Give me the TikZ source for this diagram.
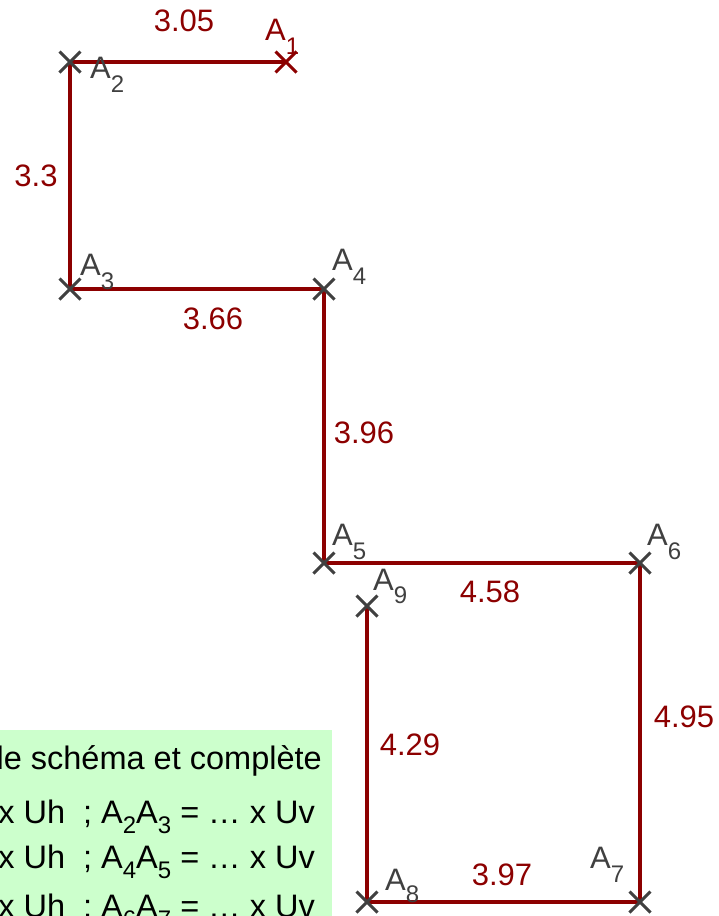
\documentclass[tikz,border=0pt]{standalone}
\usepackage{fontspec}
\setmainfont{Liberation Sans}
\usetikzlibrary{shapes.misc}
\definecolor{segred}{RGB}{140,0,0}
\definecolor{ptgray}{RGB}{64,64,64}
\definecolor{boxgreen}{RGB}{204,255,204}
\newcommand{\idx}[2][14pt]{\raisebox{-#1}{\fontsize{24}{24}\selectfont #2}}
\newcommand{\nidx}[1]{\raisebox{-10pt}{\fontsize{24}{24}\selectfont #1}}
\tikzset{
  seg/.style={draw=segred, line width=4pt},
  pt/.style={cross out, draw=ptgray, line width=3pt, minimum size=18pt, inner sep=0pt},
  ptname/.style={anchor=base west, inner sep=0pt, text=ptgray, font=\fontsize{31}{36}\selectfont},
  len/.style={inner sep=0pt, text=segred, font=\fontsize{31}{36}\selectfont},
  note/.style={anchor=base east, inner sep=0pt, font=\fontsize{32.5}{38}\selectfont},
}
\begin{document}
\begin{tikzpicture}[x=1pt, y=-1pt]
        \useasboundingbox (0,0) rectangle (718,916);
        \clip (0,0) rectangle (718,916);

        % Points
        \coordinate (a1) at (286,62);
        \coordinate (a2) at (70,62);
        \coordinate (a3) at (70,289);
        \coordinate (a4) at (324,289);
        \coordinate (a5) at (324,563);
        \coordinate (a6) at (640,563);
        \coordinate (a7) at (640,902);
        \coordinate (a8) at (367,902);
        \coordinate (a9) at (367,606);

        % Note
        \node (box) [fill=boxgreen, minimum width=332pt, minimum height=186pt, inner sep=0pt, anchor=north west] at (0,730) {};
        \node (line1) [note] at (322,769) {le schéma et complète};
        \node (line2) [note] at (315,823) {x Uh\hspace{0.55em}; A\nidx{2}A\nidx{3} = … x Uv};
        \node (line3) [note] at (315,868) {x Uh\hspace{0.55em}; A\nidx{4}A\nidx{5} = … x Uv};
        \node (line4) [note] at (315,917) {x Uh\hspace{0.55em}; A\nidx{6}A\nidx{7} = … x Uv};

        % Edges
        \draw[seg] (a1) -- (a2);
        \draw[seg] (a2) -- (a3);
        \draw[seg] (a3) -- (a4);
        \draw[seg] (a4) -- (a5);
        \draw[seg] (a5) -- (a6);
        \draw[seg] (a6) -- (a7);
        \draw[seg] (a7) -- (a8);
        \draw[seg] (a8) -- (a9);

        % Crosses
        \node (x1) [pt, draw=segred] at (a1) {};
        \node (x2) [pt] at (a2) {};
        \node (x3) [pt] at (a3) {};
        \node (x4) [pt] at (a4) {};
        \node (x5) [pt] at (a5) {};
        \node (x6) [pt] at (a6) {};
        \node (x7) [pt] at (a7) {};
        \node (x8) [pt] at (a8) {};
        \node (x9) [pt] at (a9) {};

        % Names
        \node (n1) [ptname, text=segred] at (265,40) {A\idx{1}};
        \node (n2) [ptname] at (90,78) {A\idx{2}};
        \node (n3) [ptname] at (80,275) {A\idx{3}};
        \node (n4) [ptname] at (332,270) {A\idx{4}};
        \node (n5) [ptname] at (332,545) {A\idx{5}};
        \node (n6) [ptname] at (647,545) {A\idx{6}};
        \node (n7) [ptname] at (590,868) {A\idx{7}};
        \node (n8) [ptname] at (385,890) {A\idx[12pt]{8}};
        \node (n9) [ptname] at (373,590) {A\idx[13pt]{9}};

        % Lengths
        \node (l12) [len] at (184,21) {3.05};
        \node (l23) [len] at (36,176) {3.3};
        \node (l34) [len] at (213,319) {3.66};
        \node (l45) [len] at (364,433) {3.96};
        \node (l56) [len] at (490,592) {4.58};
        \node (l67) [len] at (684,717) {4.95};
        \node (l78) [len] at (502,875) {3.97};
        \node (l89) [len] at (410,745) {4.29};

    \end{tikzpicture}
\end{document}
